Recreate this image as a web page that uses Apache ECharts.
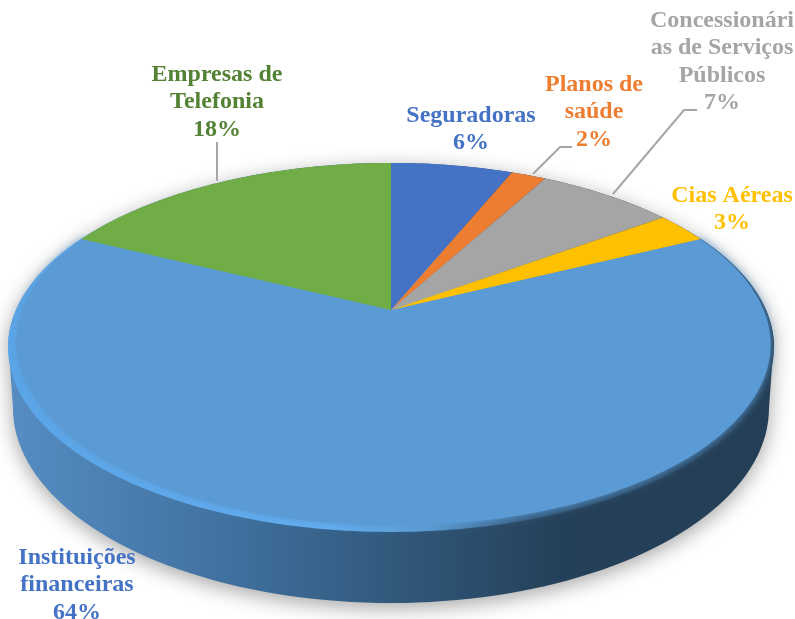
<!DOCTYPE html>
<html>

<head>
  <meta charset="utf-8" />
  <title>Reclamações por setor</title>
  <script src="https://cdn.jsdelivr.net/npm/echarts@6/dist/echarts.min.js"></script>
  <style>
    html, body { margin: 0; padding: 0; background: #fff; }
    #main { width: 795px; height: 619px; }
  </style>
</head>

<body>
  <div id="main"></div>

  <script>
    // dados
    var categories = ["Seguradoras", "Planos de\nsaúde", "Concessionári\nas de Serviços\nPúblicos", "Cias Aéreas", "Instituições\nfinanceiras", "Empresas de\nTelefonia"];
    var values = [6.25, 1.8, 7, 2.75, 64.4, 17.8];
    var sliceColors = ["#4472c4", "#ed7d31", "#a5a5a5", "#ffc000", "#5b9bd5", "#70ad47"];
    var labelColors = ["#4472c4", "#ed7d31", "#a5a5a5", "#ffc000", "#4472c4", "#548235"];
    var labelCenters = [[471, 102], [594, 71], [722, 7], [732, 182], [77, 544], [217, 61]];
    var leaderLines = [null, [[572, 147], [560, 147], [533, 174]], [[697, 110], [684, 110], [613, 194]], null, null, [[217, 142], [217, 181]]];

    var total = values.reduce(function (a, b) { return a + b; }, 0);
    var DEG = Math.PI / 180;

    // disco visto em perspectiva: o centro da pizza nao cai no centro da elipse
    var apex = [391, 310];
    var persp = { a: 375, b: 176.9, k: 0.203 };

    function topPoint(t, inset) {
      var w = 1 + persp.k * Math.cos(t);
      var dx = persp.a * Math.sin(t) / w;
      var dy = -persp.b * Math.cos(t) / w;
      var front = Math.max(0, Math.min(1, (0.6 - Math.cos(t)) / 1.1));
      var s = 1 - (inset || 0) * front * (1 - 0.6 * Math.max(0, Math.sin(t)));
      return [apex[0] + dx * s, apex[1] + dy * s];
    }

    function arcPoints(from, to, inset) {
      var pts = [];
      var n = Math.max(2, Math.ceil((to - from) / DEG));
      for (var i = 0; i <= n; i++) {
        pts.push(topPoint(from + (to - from) * i / n, inset));
      }
      return pts;
    }

    function sliceAngles(idx) {
      var before = 0;
      for (var i = 0; i < idx; i++) before += values[i];
      return [before / total * 2 * Math.PI, (before + values[idx]) / total * 2 * Math.PI];
    }

    // parede lateral (elipse inferior + borda da elipse superior)
    function wallPoints() {
      var pts = arcPoints(-100 * DEG, 100 * DEG);
      var lower = { cx: 391, cy: 408, rx: 378, ry: 195 };
      for (var a = 0; a <= 180; a += 2) {
        pts.push([lower.cx + lower.rx * Math.cos(a * DEG), lower.cy + lower.ry * Math.sin(a * DEG)]);
      }
      return pts;
    }

    function renderBase(params, api) {
      var wallFill = new echarts.graphic.LinearGradient(0, 0, 1, 0, [
        { offset: 0, color: "#568dc3" },
        { offset: 0.3, color: "#3f6f9d" },
        { offset: 0.52, color: "#305779" },
        { offset: 0.72, color: "#25405a" },
        { offset: 1, color: "#243e56" }
      ]);
      var rimFill = new echarts.graphic.LinearGradient(0, 0, 1, 0, [
        { offset: 0, color: "#5aa5e8" },
        { offset: 0.42, color: "#62aef2" },
        { offset: 0.55, color: "#5a9ad2" },
        { offset: 0.68, color: "#345a7c" },
        { offset: 1, color: "#243e56" }
      ]);
      return {
        type: "group",
        children: [{
          type: "polygon",
          shape: { points: wallPoints() },
          style: { fill: wallFill, shadowBlur: 20, shadowColor: "rgba(0,0,0,0.35)", shadowOffsetY: 5 }
        }, {
          type: "polygon",
          shape: { points: arcPoints(60 * DEG, 300 * DEG) },
          style: { fill: rimFill }
        }]
      };
    }

    function renderSlice(params, api) {
      var idx = api.value(0);
      var ang = sliceAngles(idx);
      // so a fatia grande tem o chanfro na frente
      var inset = categories[idx].indexOf("Institui") === 0 ? 0.03 : 0;
      var pts = [apex].concat(arcPoints(ang[0], ang[1], inset));
      var style = { fill: sliceColors[idx] };
      if (inset) {
        style.shadowBlur = 8;
        style.shadowColor = sliceColors[idx];
      }
      // as outras fatias por cima, para o desfoque nao sujar as vizinhas
      return { type: "polygon", z2: inset ? 1 : 2, shape: { points: pts }, style: style };
    }

    function renderLabel(params, api) {
      var idx = api.value(0);
      var children = [{
        type: "text",
        z2: 5,
        x: labelCenters[idx][0],
        y: labelCenters[idx][1],
        style: {
          text: categories[idx] + "\n" + Math.round(values[idx]) + "%",
          fill: labelColors[idx],
          font: "bold 24px 'Liberation Serif'",
          lineHeight: 27.5,
          align: "center",
          verticalAlign: "top"
        }
      }];
      if (leaderLines[idx]) {
        children.push({
          type: "polyline",
          z2: 5,
          shape: { points: leaderLines[idx] },
          style: { stroke: "#a6a6a6", lineWidth: 2, fill: null }
        });
      }
      return { type: "group", children: children };
    }

    var indexes = categories.map(function (c, i) { return [i]; });

    var myChart = echarts.init(document.getElementById("main"), null, { renderer: "canvas" });
    myChart.setOption({
      backgroundColor: "#fff",
      animation: false,
      series: [
        { type: "custom", coordinateSystem: "none", silent: true, renderItem: renderBase, data: [[0]] },
        { type: "custom", coordinateSystem: "none", silent: true, renderItem: renderSlice, data: indexes },
        { type: "custom", coordinateSystem: "none", silent: true, renderItem: renderLabel, data: indexes }
      ]
    });
  </script>
</body>

</html>
